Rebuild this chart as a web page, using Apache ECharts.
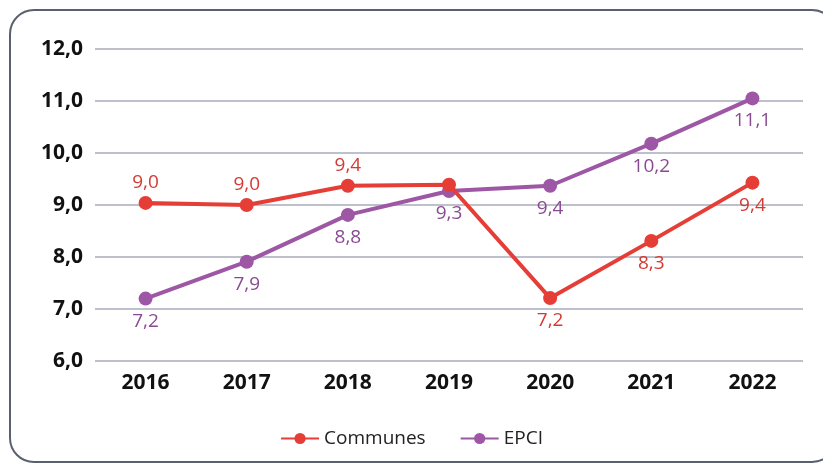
<!DOCTYPE html>
<html>
<head>
<meta charset="utf-8">
<script src="https://cdn.jsdelivr.net/npm/echarts@6/dist/echarts.min.js"></script>
<style>
  html, body { margin: 0; padding: 0; background: #fff; }
  #chart { width: 823px; height: 465px; }
</style>
</head>
<body>
<div id="chart"></div>
<script>
const years = ['2016', '2017', '2018', '2019', '2020', '2021', '2022'];
const communes = [9.04, 9.0, 9.37, 9.39, 7.21, 8.31, 9.43];
const communesLabels = ['9,0', '9,0', '9,4', '', '7,2', '8,3', '9,4'];
const communesAbove = [true, true, true, true, false, false, false];
const epci = [7.2, 7.91, 8.81, 9.27, 9.37, 10.18, 11.05];
const epciLabels = ['7,2', '7,9', '8,8', '9,3', '9,4', '10,2', '11,1'];

const RED = '#e53e36';
const PURPLE = '#9d57a5';

const myChart = echarts.init(document.getElementById('chart'), null, { renderer: 'canvas' });

const option = {
    animation: false,
    textStyle: { fontFamily: 'Open Sans' },
    graphic: [{
        type: 'rect',
        shape: { x: 10, y: 10, width: 826, height: 452, r: 24 },
        style: { fill: 'none', stroke: '#59606e', lineWidth: 2 },
        z: -1
    }],
    grid: { left: 95, right: 20, top: 49, bottom: 104 },
    legend: {
        top: 424,
        left: 'center',
        itemWidth: 38,
        itemHeight: 14,
        itemGap: 34,
        textStyle: { fontSize: 19, color: '#222', fontFamily: 'Open Sans' },
        data: ['Communes', 'EPCI']
    },
    xAxis: {
        type: 'category',
        data: years,
        boundaryGap: true,
        axisLine: { show: false },
        axisTick: { show: false },
        axisLabel: { color: '#111', fontSize: 21, fontWeight: 'bold', margin: 12 }
    },
    yAxis: {
        type: 'value',
        min: 6,
        max: 12,
        interval: 1,
        axisLine: { show: false },
        axisTick: { show: false },
        axisLabel: {
            color: '#111', fontSize: 21, fontWeight: 'bold', margin: 12,
            formatter: v => v.toFixed(1).replace('.', ',')
        },
        splitLine: { lineStyle: { color: '#a9adbb', width: 1.5 } }
    },
    series: [
        {
            name: 'Communes',
            type: 'line',
            data: communes.map((v, i) => ({
                value: v,
                label: {
                    show: communesLabels[i] !== '',
                    position: communesAbove[i] ? 'top' : 'bottom',
                    distance: communesAbove[i] ? 4 : 6
                }
            })),
            symbol: 'circle',
            symbolSize: 14,
            lineStyle: { color: RED, width: 4 },
            itemStyle: { color: RED },
            label: {
                color: '#d33a33', fontSize: 19,
                formatter: p => communesLabels[p.dataIndex]
            },
            z: 3
        },
        {
            name: 'EPCI',
            type: 'line',
            data: epci,
            symbol: 'circle',
            symbolSize: 14,
            lineStyle: { color: PURPLE, width: 4 },
            itemStyle: { color: PURPLE },
            label: {
                show: true, position: 'bottom', distance: 6,
                color: '#8a4a93', fontSize: 19,
                formatter: p => epciLabels[p.dataIndex]
            },
            z: 2
        }
    ]
};

myChart.setOption(option);
window.addEventListener('resize', myChart.resize);
</script>
</body>
</html>
